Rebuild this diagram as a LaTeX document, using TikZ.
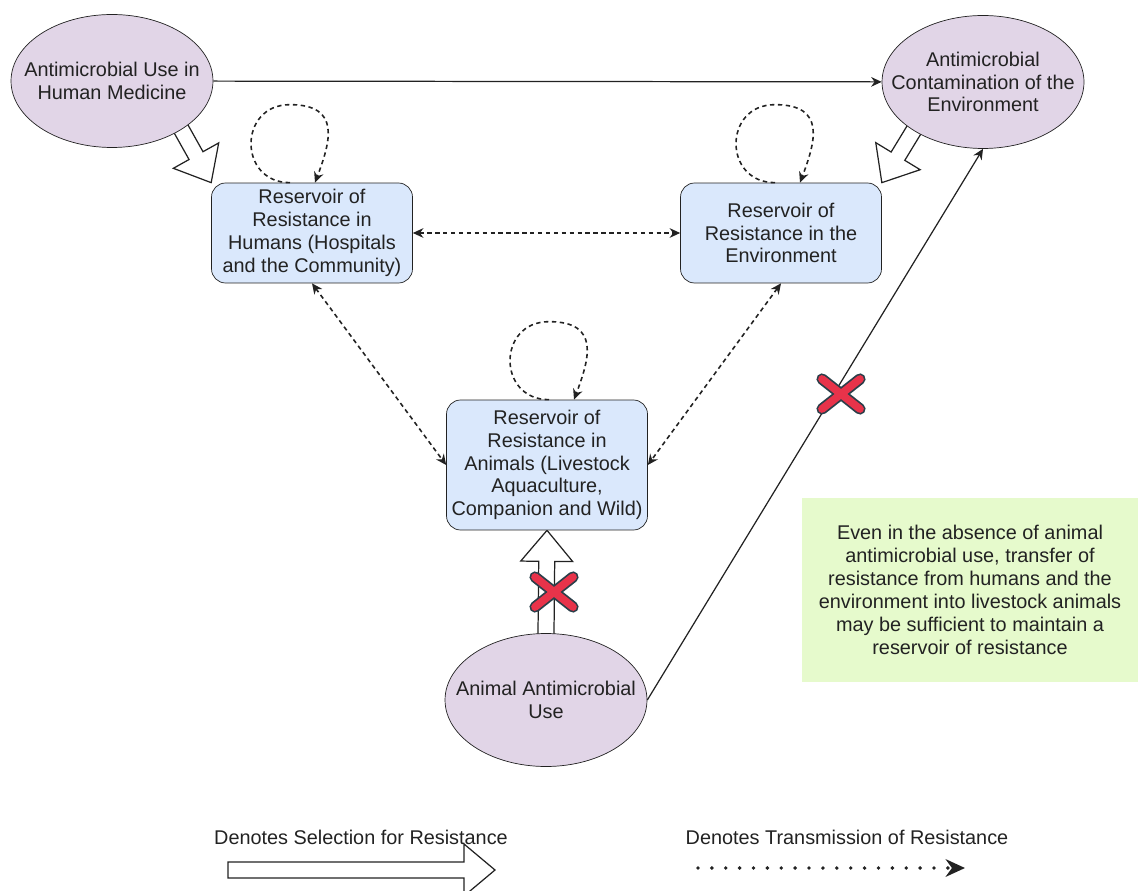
\documentclass[tikz,border=0pt]{standalone}
\usepackage{fontspec}
\setmainfont{Liberation Sans}
\usetikzlibrary{shapes.geometric,arrows.meta,calc,backgrounds}
\definecolor{usefill}{HTML}{E1D5E7}
\definecolor{resfill}{HTML}{DAE8FC}
\definecolor{notefill}{HTML}{E6FACC}
\definecolor{xred}{HTML}{E8334A}
\definecolor{xedge}{HTML}{2B3F4A}
\definecolor{ink}{HTML}{222222}
\newcommand\selarrow[2]{%
  \coordinate (hb) at ($(#2)!0.62cm!(#1)$);
  \draw[sel body] ($(#1)!0.16cm!90:(#2)$) -- ($(hb)!0.16cm!90:(#2)$) -- ($(hb)!0.52cm!90:(#2)$) -- (#2)
    -- ($(hb)!0.52cm!-90:(#2)$) -- ($(hb)!0.16cm!-90:(#2)$) -- ($(#1)!0.16cm!-90:(#2)$) -- cycle;}
\tikzset{redx/.pic={
  \draw[xedge, line width=6.4pt, line cap=round] (-19,-15) -- (19,15) (-19,15) -- (19,-15);
  \draw[xred, line width=4.4pt, line cap=round] (-19,-15) -- (19,15) (-19,15) -- (19,-15);}}
\begin{document}
\begin{tikzpicture}[x=0.02cm, y=-0.02cm, font=\fontsize{11.3}{13}\selectfont, text=ink,
  use node/.style={ellipse,draw=ink,fill=usefill,minimum width=4.04cm,minimum height=2.66cm,inner xsep=-0.6cm,inner ysep=-0.2cm,align=center},
  res node/.style={rectangle,rounded corners=8pt,draw=ink,fill=resfill,minimum width=4.02cm,minimum height=2cm,inner sep=1pt,align=center},
  trans/.style={draw=ink,dash pattern=on 2.5pt off 2pt,line width=0.9pt,-{Stealth[length=6pt,width=5.5pt]}},
  both trans/.style={trans,{Stealth[length=6pt,width=5.5pt]}-{Stealth[length=6pt,width=5.5pt]}},
  sel body/.style={draw=ink,fill=white,line width=0.7pt},
  solid arr/.style={draw=ink,line width=0.7pt,-{Stealth[length=6pt,width=5.5pt]}},
  dot arr/.style={draw=ink,line width=2.2pt,line cap=round,dash pattern=on 0pt off 7.9pt,-{Stealth[length=11pt,width=10pt]}}]
\useasboundingbox (0,0) rectangle (1142,891);

\node[use node] (muh) at (112,81) {Antimicrobial Use in\\Human Medicine};
\node[use node] (con) at (983,82) {Antimicrobial\\Contamination of the\\Environment};
\node[res node] (hum) at (312,233) {Reservoir of\\Resistance in\\Humans (Hospitals\\and the Community)};
\node[res node] (env) at (781,233) {Reservoir of\\Resistance in the\\Environment};
\node[res node, minimum height=2.6cm] (ani) at (547,465) {Reservoir of\\Resistance in\\Animals (Livestock\\Aquaculture,\\Companion and Wild)};
\node[use node] (aau) at (546,700) {Animal Antimicrobial\\Use};
\node[fill=notefill,minimum width=6.72cm,minimum height=3.7cm,align=center] (note) at (970,590)
  {Even in the absence of animal\\antimicrobial use, transfer of\\resistance from humans and the\\environment into livestock animals\\may be sufficient to maintain a\\reservoir of resistance};

% selection arrows
\begin{scope}[on background layer]
\coordinate (s1) at ($(muh.-35)!-0.2cm!(hum.north west)$);
\coordinate (s2) at ($(con.215)!-0.2cm!(env.north east)$);
\coordinate (s3) at ($(aau.north)!-0.2cm!(ani.south)$);
\selarrow{s1}{hum.north west}
\selarrow{s2}{env.north east}
\selarrow{s3}{ani.south}
\end{scope}

\draw[solid arr] (muh) -- (con);
\draw[solid arr] (aau.east) -- (con.south);
\draw[both trans] (hum) -- (env);
\draw[both trans] (hum.south) -- (ani.west);
\draw[both trans] (env.south) -- (ani.east);
\foreach \n/\dx in {hum/-22,env/-6,ani/2}
  \draw[trans] ($(\n.north)+(\dx,0)$) .. controls +(-52,0) and +(-52,0) .. ++(0,-78)
    .. controls +(52,0) and +(15,-40) .. ++(25,78);

\pic at (841,394) {redx};
\pic at (554,592) {redx};

% legend
\node (sel lab) at (361,837) {Denotes Selection for Resistance};
\node (trans lab) at (847,837) {Denotes Transmission of Resistance};
\coordinate (sel0) at (228,870);
\coordinate (sel1) at (495,870);
\coordinate (tr0) at (698,868);
\coordinate (tr1) at (965,868);
\selarrow{sel0}{sel1}
\draw[dot arr] (tr0) -- (tr1);
\end{tikzpicture}
\end{document}
